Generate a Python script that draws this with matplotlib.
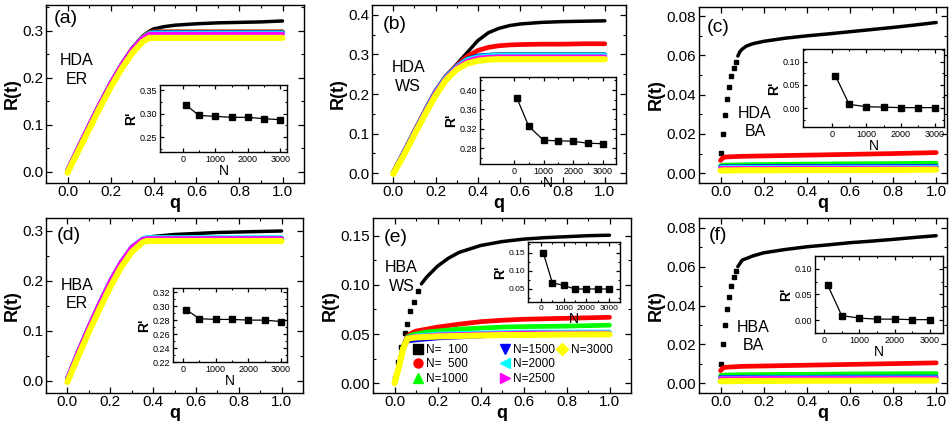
import matplotlib
matplotlib.use("Agg")
import matplotlib.pyplot as plt
from matplotlib.lines import Line2D
from matplotlib.ticker import MultipleLocator, FixedLocator

plt.rcParams['font.family'] = ['Liberation Sans', 'DejaVu Sans']

W, H = 950, 421

# series styling ------------------------------------------------------------
labels = ['N=  100', 'N=  500', 'N=1000', 'N=1500', 'N=2000', 'N=2500', 'N=3000']
colors = ['black', 'red', '#00ff00', 'blue', 'cyan', 'magenta', 'yellow']
markers = ['s', 'o', '^', 'v', '<', '>', 'D']
N_vals = [100, 500, 1000, 1500, 2000, 2500, 3000]

# panel (a) HDA ER ------------------------------------------------------------
qa = [0, 0.05, 0.1, 0.15, 0.2, 0.25, 0.3, 0.35, 0.38, 0.4, 0.45, 0.5, 0.6, 0.7, 0.8, 0.9, 1.0]
a_black = [0.004, 0.052, 0.100, 0.146, 0.190, 0.229, 0.263, 0.289, 0.299, 0.304, 0.309, 0.312, 0.315, 0.317, 0.318, 0.319, 0.321]
a_red = [0.002, 0.050, 0.097, 0.143, 0.186, 0.225, 0.259, 0.286, 0.296, 0.298, 0.298, 0.298, 0.298, 0.298, 0.298, 0.298, 0.298]
a_green = [0.002, 0.050, 0.097, 0.143, 0.186, 0.225, 0.259, 0.286, 0.295, 0.297, 0.297, 0.297, 0.297, 0.297, 0.297, 0.297, 0.297]
a_blue = [0.002, 0.050, 0.097, 0.143, 0.186, 0.225, 0.259, 0.285, 0.294, 0.296, 0.296, 0.296, 0.296, 0.296, 0.296, 0.296, 0.296]
a_cyan = [0.002, 0.050, 0.097, 0.143, 0.186, 0.225, 0.259, 0.285, 0.294, 0.295, 0.295, 0.295, 0.295, 0.295, 0.295, 0.295, 0.295]
a_magenta = [0.003, 0.051, 0.098, 0.144, 0.187, 0.226, 0.260, 0.285, 0.293, 0.293, 0.293, 0.293, 0.293, 0.293, 0.293, 0.293, 0.293]
a_yellow = [-0.002, 0.044, 0.090, 0.136, 0.179, 0.218, 0.252, 0.277, 0.285, 0.285, 0.285, 0.285, 0.285, 0.285, 0.285, 0.285, 0.285]
a_inset = [0.318, 0.296, 0.294, 0.292, 0.292, 0.289, 0.287]

# panel (b) HDA WS ------------------------------------------------------------
qb = [0, 0.05, 0.1, 0.15, 0.2, 0.25, 0.3, 0.35, 0.4, 0.45, 0.5, 0.55, 0.6, 0.7, 0.8, 0.9, 1.0]
b_black = [0.001, 0.052, 0.105, 0.157, 0.207, 0.245, 0.275, 0.305, 0.335, 0.355, 0.366, 0.373, 0.377, 0.381, 0.383, 0.384, 0.385]
b_red = [0.001, 0.052, 0.105, 0.157, 0.207, 0.245, 0.272, 0.295, 0.310, 0.318, 0.322, 0.324, 0.325, 0.326, 0.326, 0.327, 0.327]
b_green = [0.001, 0.052, 0.104, 0.156, 0.206, 0.244, 0.270, 0.288, 0.296, 0.298, 0.299, 0.299, 0.299, 0.299, 0.299, 0.299, 0.299]
b_blue = [0.001, 0.052, 0.104, 0.156, 0.206, 0.244, 0.270, 0.288, 0.296, 0.298, 0.299, 0.299, 0.299, 0.299, 0.299, 0.299, 0.299]
b_cyan = [0.001, 0.051, 0.103, 0.155, 0.205, 0.243, 0.269, 0.287, 0.294, 0.297, 0.298, 0.298, 0.298, 0.298, 0.298, 0.298, 0.298]
b_magenta = [0.001, 0.050, 0.102, 0.154, 0.203, 0.241, 0.267, 0.283, 0.291, 0.293, 0.294, 0.294, 0.294, 0.294, 0.294, 0.294, 0.294]
b_yellow = [-0.002, 0.045, 0.097, 0.148, 0.196, 0.236, 0.262, 0.277, 0.284, 0.287, 0.288, 0.288, 0.288, 0.288, 0.288, 0.288, 0.288]
b_inset = [0.383, 0.325, 0.296, 0.295, 0.294, 0.290, 0.289]

# panel (c) HDA BA ------------------------------------------------------------
qc_dots = [0, 0.01, 0.02, 0.03, 0.04, 0.05, 0.06, 0.07]
c_dots = [0.0102, 0.0200, 0.0297, 0.0380, 0.0437, 0.0495, 0.0537, 0.0568]
qc_black = [0.08, 0.09, 0.1, 0.12, 0.15, 0.2, 0.3, 0.4, 0.5, 0.6, 0.7, 0.8, 0.9, 1.0]
c_black = [0.0597, 0.0620, 0.0632, 0.0648, 0.0660, 0.0672, 0.0688, 0.0700, 0.0710, 0.0721, 0.0732, 0.0743, 0.0755, 0.0768]
qc = [0, 0.01, 0.02, 0.05, 0.1, 0.2, 0.4, 0.6, 0.8, 1.0]
c_red = [0.0065, 0.0078, 0.0082, 0.0084, 0.0086, 0.0088, 0.0092, 0.0096, 0.0100, 0.0105]
c_green = [0.0038, 0.0040, 0.0041, 0.0042, 0.0043, 0.0044, 0.0046, 0.0048, 0.0049, 0.0051]
c_blue = [0.0032, 0.0033, 0.0033, 0.0033, 0.0033, 0.0034, 0.0034, 0.0034, 0.0035, 0.0035]
c_cyan = [0.0029, 0.0030, 0.0030, 0.0030, 0.0030, 0.0030, 0.0030, 0.0031, 0.0031, 0.0031]
c_magenta = [0.0025, 0.0025, 0.0025, 0.0025, 0.0025, 0.0025, 0.0026, 0.0026, 0.0026, 0.0026]
c_yellow = [0.0013, 0.0014, 0.0014, 0.0014, 0.0015, 0.0015, 0.0016, 0.0016, 0.0017, 0.0018]
c_inset = [0.070, 0.008, 0.003, 0.002, 0.001, 0.001, 0.001]

# panel (d) HBA ER ------------------------------------------------------------
qd = [0, 0.05, 0.1, 0.15, 0.2, 0.25, 0.3, 0.35, 0.37, 0.4, 0.5, 0.6, 0.7, 0.8, 0.9, 1.0]
d_black = [0.005, 0.058, 0.108, 0.155, 0.200, 0.238, 0.268, 0.284, 0.286, 0.288, 0.292, 0.294, 0.296, 0.297, 0.298, 0.299]
d_red = [0.003, 0.056, 0.106, 0.153, 0.197, 0.235, 0.265, 0.281, 0.283, 0.283, 0.283, 0.283, 0.283, 0.283, 0.283, 0.283]
d_green = [0.003, 0.056, 0.106, 0.153, 0.197, 0.235, 0.265, 0.281, 0.283, 0.283, 0.283, 0.283, 0.283, 0.283, 0.283, 0.283]
d_blue = [0.003, 0.056, 0.106, 0.153, 0.197, 0.235, 0.265, 0.282, 0.284, 0.284, 0.284, 0.284, 0.284, 0.284, 0.284, 0.284]
d_cyan = [0.004, 0.057, 0.107, 0.154, 0.198, 0.236, 0.266, 0.283, 0.286, 0.286, 0.286, 0.286, 0.286, 0.286, 0.286, 0.286]
d_magenta = [0.004, 0.057, 0.107, 0.154, 0.198, 0.236, 0.266, 0.282, 0.284, 0.284, 0.284, 0.284, 0.284, 0.284, 0.284, 0.284]
d_yellow = [-0.003, 0.048, 0.097, 0.143, 0.187, 0.226, 0.257, 0.276, 0.279, 0.279, 0.279, 0.279, 0.279, 0.279, 0.279, 0.279]
d_inset = [0.295, 0.282, 0.281, 0.281, 0.280, 0.280, 0.278]

# panel (e) HBA WS ------------------------------------------------------------
qe_dots = [0, 0.017, 0.031, 0.048, 0.059, 0.074, 0.090, 0.108]
e_dots = [0.005, 0.022, 0.037, 0.051, 0.060, 0.073, 0.083, 0.094]
qe_black = [0.125, 0.15, 0.2, 0.25, 0.3, 0.4, 0.5, 0.6, 0.7, 0.8, 0.9, 1.0]
e_black = [0.101, 0.108, 0.119, 0.127, 0.133, 0.140, 0.144, 0.1465, 0.148, 0.149, 0.150, 0.1505]
qe = [0, 0.02, 0.04, 0.06, 0.08, 0.1, 0.15, 0.2, 0.3, 0.4, 0.5, 0.6, 0.8, 1.0]
e_red = [0, 0.017, 0.037, 0.048, 0.051, 0.053, 0.055, 0.057, 0.060, 0.0625, 0.064, 0.065, 0.066, 0.067]
e_green = [0, 0.017, 0.037, 0.047, 0.049, 0.050, 0.052, 0.053, 0.055, 0.056, 0.057, 0.0575, 0.058, 0.059]
e_blue = [0, 0.016, 0.035, 0.043, 0.0435, 0.044, 0.045, 0.046, 0.047, 0.048, 0.049, 0.050, 0.0505, 0.051]
e_cyan = [0, 0.017, 0.036, 0.046, 0.047, 0.048, 0.049, 0.050, 0.0505, 0.051, 0.0515, 0.052, 0.052, 0.052]
e_magenta = [0, 0.017, 0.036, 0.046, 0.047, 0.0475, 0.048, 0.049, 0.0495, 0.050, 0.0505, 0.051, 0.051, 0.051]
e_yellow = [0, 0.016, 0.035, 0.045, 0.046, 0.0465, 0.047, 0.0475, 0.048, 0.0485, 0.049, 0.049, 0.0495, 0.0497]
e_inset = [0.150, 0.067, 0.060, 0.050, 0.050, 0.050, 0.050]

# panel (f) HBA BA ------------------------------------------------------------
qf_dots = [0, 0.01, 0.02, 0.03, 0.04, 0.05, 0.06, 0.07]
f_dots = [0.010, 0.020, 0.030, 0.038, 0.0445, 0.050, 0.0545, 0.058]
qf_black = [0.08, 0.1, 0.15, 0.2, 0.3, 0.4, 0.5, 0.6, 0.7, 0.8, 0.9, 1.0]
f_black = [0.060, 0.0633, 0.0655, 0.0671, 0.0688, 0.0702, 0.0712, 0.0723, 0.0731, 0.0740, 0.0750, 0.0759]
qf = [0, 0.01, 0.02, 0.05, 0.1, 0.2, 0.4, 0.6, 0.8, 1.0]
f_red = [0.0065, 0.0078, 0.0082, 0.0084, 0.0087, 0.0089, 0.0093, 0.0097, 0.0101, 0.0105]
f_green = [0.0040, 0.0041, 0.0042, 0.0043, 0.0044, 0.0045, 0.0046, 0.0048, 0.0049, 0.0050]
f_blue = [0.0030, 0.0030, 0.0030, 0.0030, 0.0031, 0.0031, 0.0031, 0.0032, 0.0032, 0.0032]
f_cyan = [0.0027, 0.0027, 0.0027, 0.0027, 0.0027, 0.0028, 0.0028, 0.0028, 0.0028, 0.0028]
f_magenta = [0.0024, 0.0024, 0.0024, 0.0024, 0.0024, 0.0025, 0.0025, 0.0025, 0.0025, 0.0025]
f_yellow = [0.0010, 0.0011, 0.0011, 0.0011, 0.0012, 0.0012, 0.0013, 0.0013, 0.0014, 0.0014]
f_inset = [0.069, 0.009, 0.004, 0.002, 0.002, 0.001, 0.001]


def box(x0, y0, x1, y1):
    # pixel box (top-left origin) -> figure fraction
    return [x0 / W, 1 - y1 / H, (x1 - x0) / W, (y1 - y0) / H]


def style(ax, fs, maj, mino, pad=2):
    ax.tick_params(which='both', direction='in', top=True, right=True, labelsize=fs, pad=pad)
    ax.tick_params(which='major', length=maj, width=0.9)
    ax.tick_params(which='minor', length=mino, width=0.8)
    for s in ax.spines.values():
        s.set_linewidth(1.0)


def main_panel(ax, q, curves, black_q, black_r, dots_q=None, dots_r=None):
    lws = [2.5, 3.4, 3.4, 3.4, 3.4, 3.4, 4.4]
    ax.plot(black_q, black_r, color='black', lw=lws[0], solid_capstyle='round', zorder=2)
    if dots_q is not None:
        ax.plot(dots_q, dots_r, 's', color='black', ms=2.8, zorder=2)
    for i, r in enumerate(curves):
        ax.plot(q, r, color=colors[i + 1], lw=lws[i + 1], solid_capstyle='round', zorder=3 + i)
    ax.set_xlim(-0.1, 1.1)
    ax.xaxis.set_major_locator(MultipleLocator(0.2))
    ax.xaxis.set_minor_locator(MultipleLocator(0.1))
    ax.xaxis.set_major_formatter(plt.FormatStrFormatter('%.1f'))
    ax.set_xlabel('q', fontsize=13, fontweight='bold', labelpad=-3)
    ax.set_ylabel('R(t)', fontsize=13, fontweight='bold', labelpad=1)
    style(ax, 11, 4, 2, pad=2)
    ax.tick_params(axis='x', pad=1.5)


def inset(rect, vals, ylim, ystep, yfmt, ymin_step, fs=6.5):
    ax = fig.add_axes(box(*rect))
    ax.plot(N_vals, vals, '-s', color='black', lw=0.9, ms=4)
    ax.set_ylim(*ylim)
    ax.yaxis.set_major_locator(MultipleLocator(ystep))
    ax.yaxis.set_minor_locator(MultipleLocator(ymin_step))
    ax.yaxis.set_major_formatter(plt.FormatStrFormatter(yfmt))
    ax.xaxis.set_major_locator(FixedLocator([0, 1000, 2000, 3000]))
    ax.xaxis.set_minor_locator(FixedLocator([500, 1500, 2500]))
    ax.set_xlabel('N', fontsize=10, labelpad=0)
    ax.set_ylabel("R'", fontsize=10, fontweight='bold', labelpad=1)
    style(ax, fs, 3, 1.5)
    return ax


fig = plt.figure(figsize=(W / 100, H / 100), dpi=100)

# (a)
ax = fig.add_axes(box(46, 5, 304, 183))
main_panel(ax, qa, [a_red, a_green, a_blue, a_cyan, a_magenta, a_yellow], qa, a_black)
ax.set_ylim(-0.024, 0.355)
ax.yaxis.set_major_locator(MultipleLocator(0.1))
ax.yaxis.set_minor_locator(MultipleLocator(0.05))
ax.text(0.03, 0.97, '(a)', transform=ax.transAxes, fontsize=14, va='top')
ax.text(0.12, 0.73, 'HDA\nER', transform=ax.transAxes, fontsize=11.5, va='top', ha='center', linespacing=1.3)
ins = inset((160, 85, 287, 152), a_inset, (0.218, 0.361), 0.05, '%.2f', 0.025)
ins.set_xlim(-700, 3200)

# (b)
ax = fig.add_axes(box(372, 5, 626, 183))
main_panel(ax, qb, [b_red, b_green, b_blue, b_cyan, b_magenta, b_yellow], qb, b_black)
ax.set_ylim(-0.025, 0.425)
ax.yaxis.set_major_locator(MultipleLocator(0.1))
ax.yaxis.set_minor_locator(MultipleLocator(0.05))
ax.text(0.043, 0.94, '(b)', transform=ax.transAxes, fontsize=14, va='top')
ax.text(0.142, 0.69, 'HDA\nWS', transform=ax.transAxes, fontsize=11.5, va='top', ha='center', linespacing=1.3)
ins = inset((480, 77, 616, 164), b_inset, (0.247, 0.427), 0.04, '%.2f', 0.02)
ins.set_xlim(-1150, 3450)

# (c)
ax = fig.add_axes(box(699, 7, 947, 183))
main_panel(ax, qc, [c_red, c_green, c_blue, c_cyan, c_magenta, c_yellow], qc_black, c_black, qc_dots, c_dots)
ax.set_xlim(-0.1, 1.05)
ax.set_ylim(-0.005, 0.0847)
ax.yaxis.set_major_locator(MultipleLocator(0.02))
ax.yaxis.set_minor_locator(MultipleLocator(0.01))
ax.yaxis.set_major_formatter(plt.FormatStrFormatter('%.2f'))
ax.text(0.032, 0.93, '(c)', transform=ax.transAxes, fontsize=14, va='top')
ax.text(0.226, 0.44, 'HDA\nBA', transform=ax.transAxes, fontsize=11.5, va='top', ha='center', linespacing=1.3)
ins = inset((803, 49, 944, 127), c_inset, (-0.041, 0.128), 0.05, '%.2f', 0.025)
ins.set_xlim(-845, 3262)

# (d)
ax = fig.add_axes(box(46, 218, 303, 393))
main_panel(ax, qd, [d_red, d_green, d_blue, d_cyan, d_magenta, d_yellow], qd, d_black)
ax.set_ylim(-0.025, 0.325)
ax.yaxis.set_major_locator(MultipleLocator(0.1))
ax.yaxis.set_minor_locator(MultipleLocator(0.05))
ax.text(0.043, 0.95, '(d)', transform=ax.transAxes, fontsize=14, va='top')
ax.text(0.12, 0.66, 'HBA\nER', transform=ax.transAxes, fontsize=11.5, va='top', ha='center', linespacing=1.3)
ins = inset((173, 288, 287, 362), d_inset, (0.22, 0.326), 0.02, '%.2f', 0.01)
ins.set_xlim(-306, 3183)

# (e)
ax = fig.add_axes(box(373, 218, 631, 393))
main_panel(ax, qe, [e_red, e_green, e_blue, e_cyan, e_magenta, e_yellow], qe_black, e_black, qe_dots, e_dots)
ax.set_ylim(-0.01, 0.168)
ax.yaxis.set_major_locator(MultipleLocator(0.05))
ax.yaxis.set_minor_locator(MultipleLocator(0.025))
ax.yaxis.set_major_formatter(plt.FormatStrFormatter('%.2f'))
ax.text(0.04, 0.94, '(e)', transform=ax.transAxes, fontsize=14, va='top')
ax.text(0.11, 0.76, 'HBA\nWS', transform=ax.transAxes, fontsize=11.5, va='top', ha='center', linespacing=1.3)
handles = [Line2D([], [], ls='none', marker=m, color=c, ms=6.5) for m, c in zip(markers, colors)]
# three legend columns placed one by one (3 + 3 + 1 entries)
cols = [(0, 3, 0.156), (3, 6, 0.493), (6, 7, 0.716)]
for k, (i0, i1, x) in enumerate(cols):
    leg = ax.legend(handles[i0:i1], labels[i0:i1], loc='upper left', bbox_to_anchor=(x, 0.28),
                    frameon=False, fontsize=8.5, handletextpad=0.3, labelspacing=0.2,
                    borderpad=0, handlelength=0.8, borderaxespad=0)
    if k < len(cols) - 1:
        ax.add_artist(leg)
ins = inset((528, 242, 620, 302), e_inset, (0.014, 0.18), 0.05, '%.2f', 0.025, fs=6)
ins.set_xlim(-574, 3485)

# (f)
ax = fig.add_axes(box(699, 218, 947, 393))
main_panel(ax, qf, [f_red, f_green, f_blue, f_cyan, f_magenta, f_yellow], qf_black, f_black, qf_dots, f_dots)
ax.set_xlim(-0.1, 1.05)
ax.set_ylim(-0.005, 0.085)
ax.yaxis.set_major_locator(MultipleLocator(0.02))
ax.yaxis.set_minor_locator(MultipleLocator(0.01))
ax.yaxis.set_major_formatter(plt.FormatStrFormatter('%.2f'))
ax.text(0.04, 0.95, '(f)', transform=ax.transAxes, fontsize=14, va='top')
ax.text(0.218, 0.42, 'HBA\nBA', transform=ax.transAxes, fontsize=11.5, va='top', ha='center', linespacing=1.3)
ins = inset((815, 256, 943, 333), f_inset, (-0.025, 0.125), 0.05, '%.2f', 0.025)
ins.set_xlim(-255, 3368)

fig.savefig('out.png', dpi=100)
